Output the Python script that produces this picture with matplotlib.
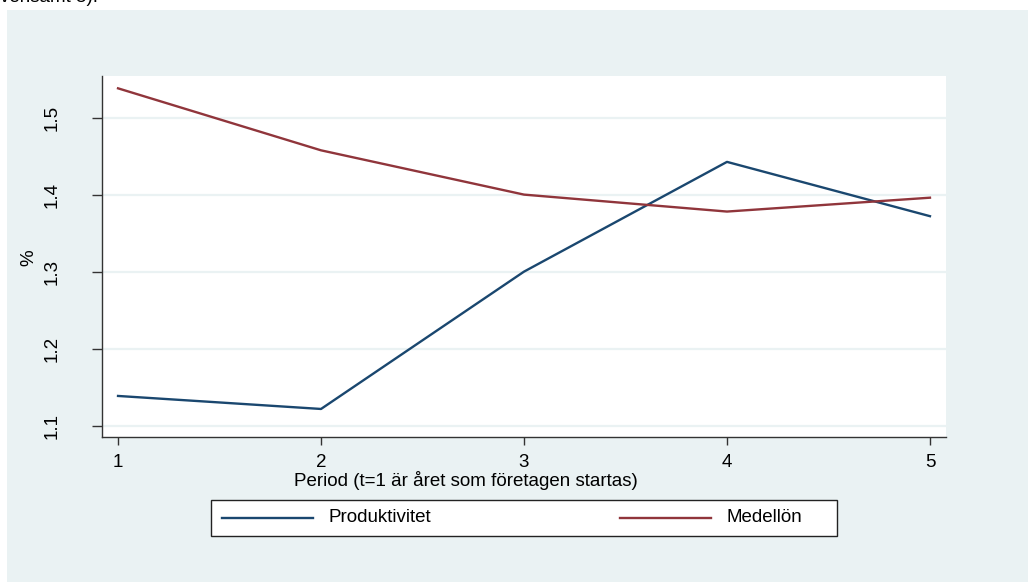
import matplotlib
matplotlib.use("Agg")
import matplotlib.pyplot as plt
from matplotlib.patches import Rectangle
from matplotlib.lines import Line2D

plt.rcParams['font.family'] = ['Liberation Sans', 'DejaVu Sans']

periods = [1, 2, 3, 4, 5]
produktivitet = [1.1386, 1.1217, 1.300, 1.4425, 1.372]
medellon = [1.538, 1.4575, 1.400, 1.378, 1.396]
yticks = [1.1, 1.2, 1.3, 1.4, 1.5]
series_names = ["Produktivitet", "Medellön"]
xlabel = "Period (t=1 är året som företagen startas)"
ylabel = "%"

W, H = 1028, 582
BG = '#EAF2F3'
NAVY = '#1A476F'
MAROON = '#90353B'
FS = 13.5

fig = plt.figure(figsize=(W / 100, H / 100), dpi=100)
fig.patch.set_facecolor('white')

def fx(px):
    return px / W

def fy(py):
    return 1 - py / H

# background panel
fig.patches.append(Rectangle((fx(7), 0), 1 - fx(7), fy(10), transform=fig.transFigure,
                             facecolor=BG, edgecolor='none', zorder=-5))

# cut-off text from the page above
fig.text(fx(0), fy(2), "vensamt 5).", fontsize=FS, va='baseline', ha='left', color='black')

L, R, T, B = 102, 946, 76, 437
ax = fig.add_axes([fx(L), fy(B), fx(R) - fx(L), fy(T) - fy(B)])
ax.set_facecolor('white')
ax.set_zorder(1)

ax.set_xlim(0.921, 5.079)
ax.set_ylim(1.0853, 1.554)

for y in yticks:
    ax.axhline(y, color=BG, lw=1.6, zorder=1)

ax.plot(periods, produktivitet, color=NAVY, lw=1.7, zorder=3)
ax.plot(periods, medellon, color=MAROON, lw=1.7, zorder=3)

ax.set_xticks(periods)
ax.set_xticklabels([str(p) for p in periods])
ax.set_yticks(yticks)
ax.set_yticklabels([f"{v:.1f}" for v in yticks], rotation=90, va='center')

for s in ['top', 'right']:
    ax.spines[s].set_visible(False)
for s in ['left', 'bottom']:
    ax.spines[s].set_color('#333333')
    ax.spines[s].set_linewidth(1.0)

ax.tick_params(axis='both', direction='out', width=1.0, color='#333333',
               labelsize=FS, labelcolor='black')
ax.tick_params(axis='x', length=6, pad=6)
ax.tick_params(axis='y', length=7, pad=23)

fig.text(fx(466), fy(480), xlabel, ha='center', va='center', fontsize=FS, zorder=4)
fig.text(fx(29), fy(258), ylabel, ha='center', va='center', fontsize=FS, rotation=90, zorder=4)

# legend box
fig.patches.append(Rectangle((fx(211), fy(536)), fx(837) - fx(211), fy(500) - fy(536),
                             transform=fig.transFigure, facecolor='white',
                             edgecolor='#222222', lw=1.0, zorder=2))
ly = fy(518)
fig.lines.append(Line2D([fx(222), fx(313)], [ly, ly], transform=fig.transFigure,
                        color=NAVY, lw=1.7, zorder=3))
fig.text(fx(328), ly, series_names[0], ha='left', va='center', fontsize=FS, zorder=4)
fig.lines.append(Line2D([fx(620), fx(711)], [ly, ly], transform=fig.transFigure,
                        color=MAROON, lw=1.7, zorder=3))
fig.text(fx(726), ly, series_names[1], ha='left', va='center', fontsize=FS, zorder=4)

fig.savefig("out.png", dpi=100, facecolor=fig.get_facecolor())
